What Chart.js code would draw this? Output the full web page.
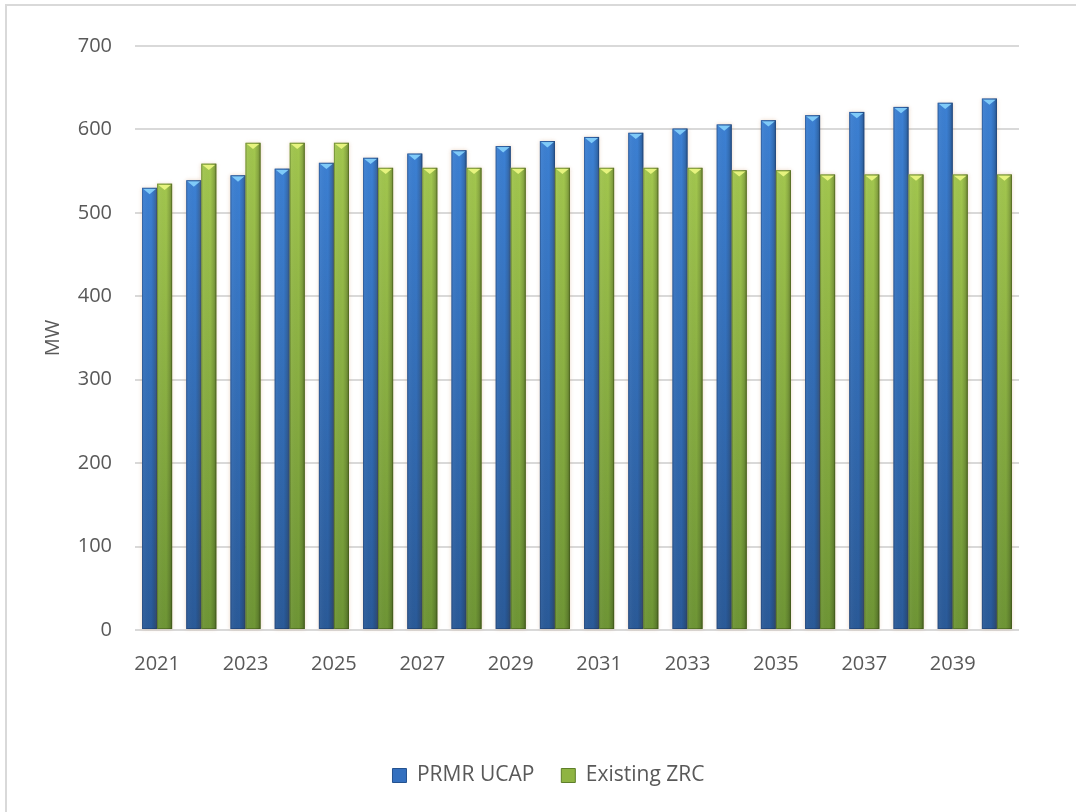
<!DOCTYPE html>
<html>
<head>
<meta charset="utf-8">
<script src="https://cdn.jsdelivr.net/npm/chart.js@4/dist/chart.umd.min.js"></script>
<style>
  html, body { margin: 0; padding: 0; background: #ffffff; overflow: hidden; }
  #frame { position: absolute; left: 5px; top: 4px; width: 1200px; height: 900px; border: 2px solid #d9d9d9; box-sizing: border-box; }
  #wrap { position: absolute; left: 0; top: 0; width: 1076px; height: 812px; }
</style>
</head>
<body>
<div id="frame"></div>
<div id="wrap"><canvas id="c" width="1076" height="812"></canvas></div>
<script>
const years = ['2021','2022','2023','2024','2025','2026','2027','2028','2029','2030',
               '2031','2032','2033','2034','2035','2036','2037','2038','2039','2040'];
const prmrUcap = [530, 539, 545, 553, 560, 566, 571, 575, 580, 586,
                  591, 596, 601, 606, 611, 617, 621, 627, 632, 637];
const existingZrc = [535, 559, 584, 584, 584, 554, 554, 554, 554, 554,
                     554, 554, 554, 551, 551, 546, 546, 546, 546, 546];
const seriesNames = ['PRMR UCAP', 'Existing ZRC'];
const yTicks = [0, 100, 200, 300, 400, 500, 600, 700];

const styles = [
  { top: '#3c80d3', bottom: '#2a5a98', tri: '#7fcaf8', edge: 'rgba(20,40,80,0.35)' },
  { top: '#a2c64e', bottom: '#6e9535', tri: '#e6f37e', edge: 'rgba(40,60,10,0.35)' }
];

const bevelPlugin = {
  id: 'bevel',
  afterLayout(chart) {
    const lg = chart.legend;
    if (lg) { lg.left += 29; lg.right += 29; }
  },
  afterDatasetsDraw(chart) {
    const ctx = chart.ctx;
    chart.data.datasets.forEach((ds, di) => {
      const meta = chart.getDatasetMeta(di);
      const st = styles[di];
      meta.data.forEach(el => {
        const p = el.getProps(['x', 'y', 'base', 'width'], true);
        const l = p.x - p.width / 2, r = p.x + p.width / 2;
        const t = p.y, b = p.base;
        ctx.save();
        ctx.shadowColor = 'rgba(200,140,90,0.35)';
        ctx.shadowBlur = 4;
        const g = ctx.createLinearGradient(0, t, 0, b);
        g.addColorStop(0, st.top);
        g.addColorStop(1, st.bottom);
        ctx.fillStyle = g;
        ctx.fillRect(l, t, r - l, b - t);
        ctx.shadowBlur = 0;
        ctx.shadowColor = 'transparent';
        const eg = ctx.createLinearGradient(l, 0, r, 0);
        eg.addColorStop(0, 'rgba(255,255,255,0.06)');
        eg.addColorStop(0.6, 'rgba(0,0,0,0)');
        eg.addColorStop(0.8, 'rgba(0,0,0,0.12)');
        eg.addColorStop(1, 'rgba(0,0,0,0.3)');
        ctx.fillStyle = eg;
        ctx.fillRect(l, t, r - l, b - t);
        ctx.beginPath();
        ctx.moveTo(l + 1, t + 1);
        ctx.lineTo(r - 1, t + 1);
        ctx.lineTo(p.x, t + (r - l) * 0.42);
        ctx.closePath();
        ctx.fillStyle = st.tri;
        ctx.fill();
        ctx.strokeStyle = st.edge;
        ctx.lineWidth = 1;
        ctx.strokeRect(l + 0.5, t + 0.5, r - l - 1, b - t - 1);
        ctx.restore();
      });
    });
  }
};

const FONT = "'Open Sans', 'Noto Sans', sans-serif";

new Chart(document.getElementById('c'), {
  type: 'bar',
  data: {
    labels: years,
    datasets: [
      { label: seriesNames[0], data: prmrUcap, backgroundColor: '#3470bf', borderColor: '#24528f', borderWidth: 1,
        categoryPercentage: 0.68, barPercentage: 1.0 },
      { label: seriesNames[1], data: existingZrc, backgroundColor: '#8fb443', borderColor: '#5e7f2a', borderWidth: 1,
        categoryPercentage: 0.68, barPercentage: 1.0 }
    ]
  },
  options: {
    responsive: false,
    animation: false,
    devicePixelRatio: 1,
    layout: { padding: { left: 20, right: 57, top: 46, bottom: 16 } },
    plugins: {
      tooltip: { enabled: false },
      legend: {
        position: 'bottom',
        labels: {
          font: { family: FONT, size: 21 },
          color: '#595959',
          boxWidth: 14,
          boxHeight: 14,
          padding: 27
        }
      }
    },
    scales: {
      x: {
        grid: { display: false },
        border: { display: false },
        ticks: {
          autoSkip: false,
          maxRotation: 0,
          font: { family: FONT, size: 20 },
          color: '#595959',
          padding: 14,
          callback: function (v, i) { return i % 2 === 0 ? this.getLabelForValue(v) : ''; }
        },
        afterFit: s => { s.height = 108; }
      },
      y: {
        min: 0, max: 700,
        afterBuildTicks: s => { s.ticks = yTicks.map(v => ({ value: v })); },
        grid: { color: '#d9d9d9', lineWidth: 2, drawTicks: false },
        border: { display: false },
        ticks: { font: { family: FONT, size: 20 }, color: '#595959', padding: 23 },
        title: { display: true, text: 'MW', font: { family: FONT, size: 20 }, color: '#595959', padding: { top: 21, bottom: 0 } },
        afterFit: s => { s.width = 115; }
      }
    }
  },
  plugins: [bevelPlugin]
});
</script>
</body>
</html>
